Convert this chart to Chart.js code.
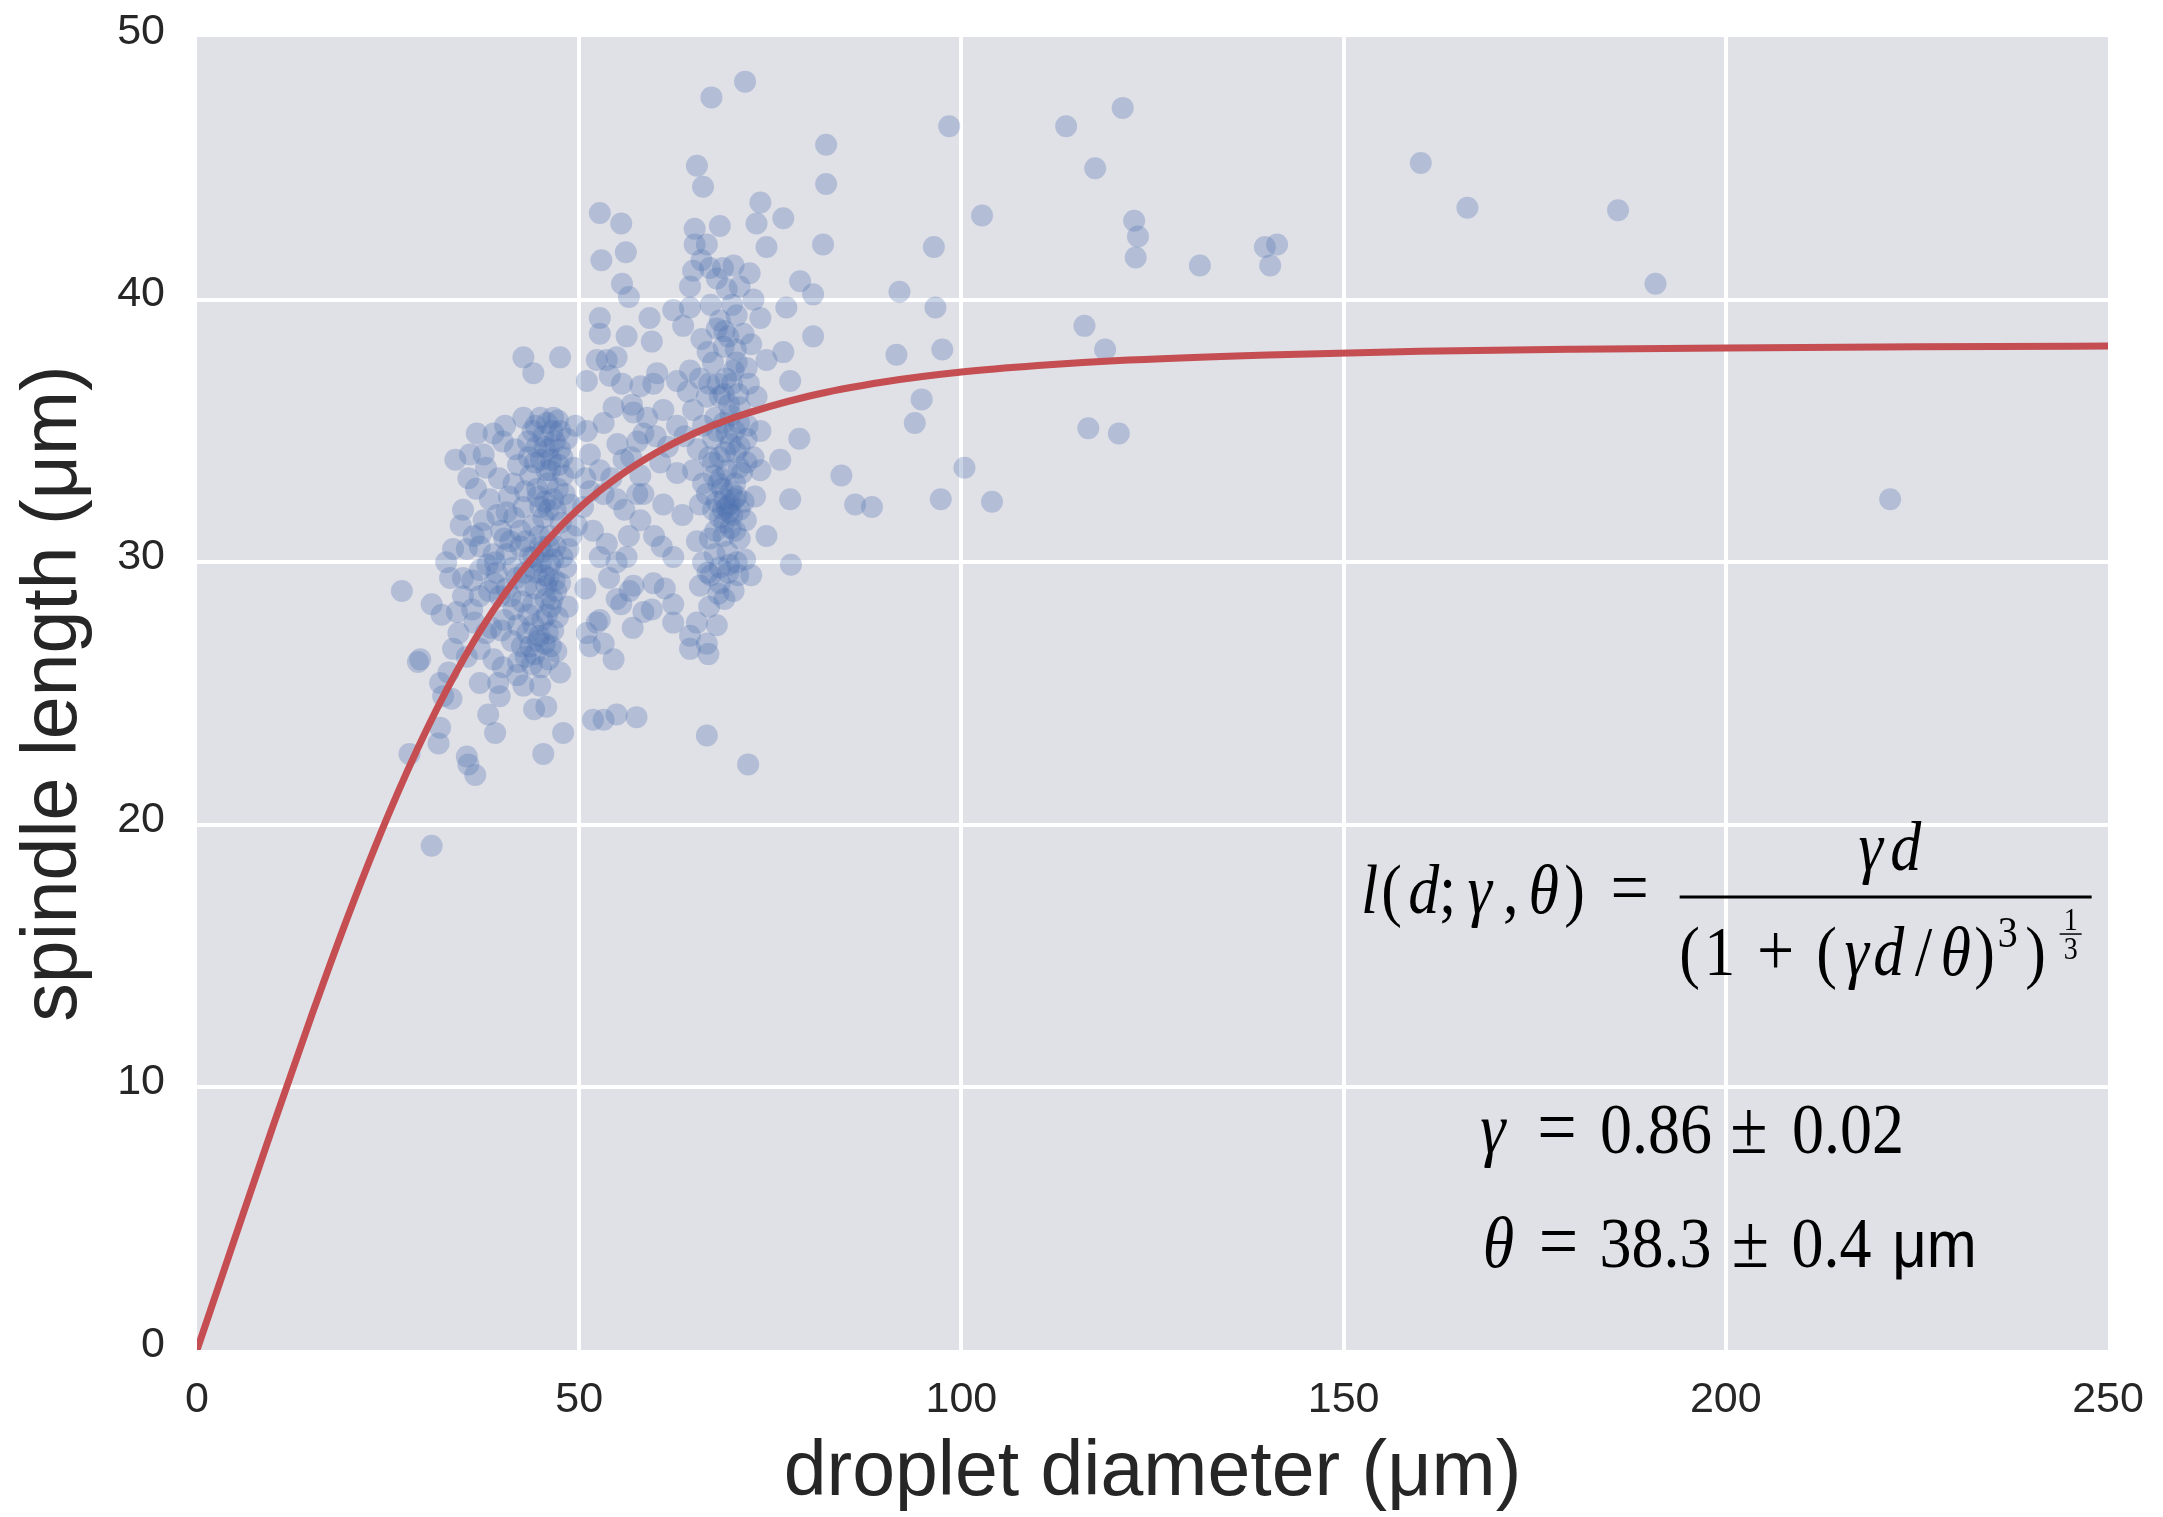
<!DOCTYPE html>
<html lang="en">
<head>
<meta charset="UTF-8">
<title>Spindle length vs droplet diameter</title>
<script src="https://cdn.jsdelivr.net/npm/chart.js@4.4.1/dist/chart.umd.min.js"></script>
<style>
  html, body { margin: 0; padding: 0; background: #fff; }
  #wrap { width: 2163px; height: 1517px; }
</style>
</head>
<body>
<div id="wrap"><canvas id="spindleChart" width="2163" height="1517"></canvas></div>
<script>
// axis ticks
const xTicks = [0, 50, 100, 150, 200, 250];
const yTicks = [0, 10, 20, 30, 40, 50];

// fitted curve
const fitDiameter = [0, 5, 10, 15, 20, 25, 30, 35, 40, 45, 50, 55, 60, 65, 70, 80, 90, 100, 110, 120, 140, 160, 180, 200, 225, 250];
const fitLength  = [0, 4.30, 8.57, 12.74, 16.71, 20.36, 23.60, 26.38, 28.69, 30.55, 32.06, 33.23, 34.16, 34.90, 35.48, 36.32, 36.87, 37.24, 37.49, 37.67, 37.89, 38.03, 38.11, 38.16, 38.20, 38.23];

// measured droplets: [diameter, spindle length]
const leftCluster = [
  [26.8,28.9],[28.9,26.2],[27.8,22.7],[30.7,19.2],[29.2,26.3],[30.7,28.4],[31.8,25.4],[32.2,24.9],[33.3,24.8],[31.8,23.7],
  [31.6,23.1],[32.9,25.8],[35.5,22.3],[36.4,21.9],[35.3,22.6],[38.1,24.2],[39.6,24.9],[37.0,25.4],[39.4,25.4],[42.7,25.3],
  [44.9,25.3],[45.7,24.5],[47.9,23.5],[45.3,22.7],[33.5,26.7],[35.3,26.4],[37.0,26.7],[38.8,26.3],[40.0,26.0],
  [42.5,26.8],[43.6,26.8],[44.2,26.5],[44.8,27.2],[45.5,26.9],[46.6,27.4],[46.0,26.3],[43.2,27.3],[44.0,27.6],[45.2,27.8],
  [47.5,25.8],[42.0,26.2],[41.2,27.0],[47.0,26.6],[45.0,26.0],[43.8,26.1],
  [34.8,28.7],[37.0,28.7],[39.6,28.7],[34.0,28.1],[41.4,28.2],[33.1,29.4],[34.8,29.4],[37.0,29.7],[39.2,29.6],[41.4,29.8],
  [43.1,29.1],[45.7,29.1],[47.5,29.2],[44.4,29.6],[36.0,28.2],[38.2,28.9],[42.5,28.5],[46.5,28.6],[48.5,28.3],[40.5,29.0],
  [44.0,28.4],[45.8,28.0],[32.0,28.0],[45.5,29.5],[46.2,29.9],[46.8,29.3],[45.0,30.0],
  [33.5,30.5],[35.3,30.5],[37.0,30.6],[38.8,30.3],[40.5,30.3],[42.3,30.6],[44.9,30.6],[46.2,31.0],[46.6,30.1],[42.3,31.2],
  [44.0,31.4],[37.5,31.6],[49.7,31.4],[36.2,31.0],[39.8,31.2],[41.0,30.8],[43.5,30.2],[47.6,31.5],[48.6,30.5],[34.5,31.4],
  [32.6,30.0],
  [34.8,32.0],[38.3,32.4],[40.5,31.9],[42.7,32.1],[44.9,32.1],[46.6,32.4],[41.4,33.0],[43.6,33.3],[45.7,33.5],[47.9,33.3],
  [50.5,32.1],[46.0,32.0],[47.2,32.8],[36.5,32.8],[39.5,33.2],[44.5,32.8],[48.8,32.2],[37.8,33.6],[35.5,33.2],
  [36.6,34.9],[38.8,34.9],[35.7,34.1],[37.5,34.1],[41.6,34.3],[42.7,35.5],[44.9,35.5],[46.6,35.5],[47.5,35.0],[45.3,34.8],
  [48.4,34.7],[44.4,34.4],[46.0,34.3],[47.5,34.3],[46.5,35.0],[40.0,34.6],[43.3,34.6],[49.5,35.2],
  [42.7,37.8],[47.5,37.8],[44.0,37.2],
  [38.5,27.5],[40.2,27.8],[39.0,30.0],[41.8,29.4],[43.0,30.8],[45.3,31.7],[46.9,32.0],[45.9,33.0],[44.2,33.8],[46.3,33.9],
  [47.8,34.0],[45.8,35.3],[43.9,35.0],[42.0,33.7],[40.8,32.5],[39.3,31.8],[37.2,31.1],[36.0,29.3],[38.0,29.9],[42.0,27.6],
  [46.3,28.3],[47.2,27.9],[48.3,29.8],[49.0,31.0],[49.3,33.6],[44.8,31.0],[45.6,28.6],[46.9,30.6],[43.4,28.0],
  [41.9,25.7],[44.1,24.4],[39.0,23.5],[34.2,27.3],[36.3,27.7],[33.8,33.9],[40.3,35.2],[43.4,34.0],
  [44.6,27.0],[45.9,27.3],[43.0,26.4],[46.3,26.8],[44.3,29.0],[46.0,29.4],[47.0,28.9],[45.2,30.4],[44.0,30.2],[46.0,30.6],
  [45.5,32.3],[44.6,32.5],[46.2,33.5],[45.0,33.9],[46.8,34.6],[45.5,34.4],[47.2,35.4],[44.3,35.2],[42.9,32.7],[41.5,31.7],
  [40.2,30.9],[38.9,29.2],[43.9,29.8],[42.8,29.6],[41.0,28.7],[39.8,27.4],[37.8,27.3],[47.8,30.2],[48.1,32.6],[47.3,33.7]
];
const middleCluster = [
  [52.7,39.3],[52.7,38.7],[56.2,38.6],[59.5,38.4],[52.3,37.7],[54.9,37.8],[51.0,36.9],[54.0,37.1],[58.0,36.7],[59.7,36.8],
  [62.8,36.9],[53.6,37.7],[53.2,35.3],[54.5,35.9],[57.1,35.7],[58.4,34.9],[61.0,35.8],[62.8,35.2],[51.4,34.1],[51.0,35.0],
  [52.7,33.5],[55.8,33.9],[58.0,33.3],[60.6,33.8],[62.8,33.4],[51.4,32.7],[54.9,32.4],[58.4,32.6],[61.0,32.2],[53.2,32.6],
  [58.0,31.6],[56.5,31.0],[51.8,31.2],[53.6,30.7],[54.9,30.0],[52.7,30.2],[62.3,30.2],[59.7,29.2],[56.6,28.9],[54.9,28.6],
  [52.3,27.7],[51.0,27.3],[54.5,26.3],[58.4,28.1],[62.3,28.4],[62.3,27.7],[52.7,27.8],[53.2,26.9],[51.4,26.8],[55.5,28.4],
  [59.5,28.2],[57.1,29.1],[53.2,24.0],[54.9,24.2],[57.5,24.1],[51.8,24.0],
  [52.7,43.3],[55.5,42.9],[52.9,41.5],[56.1,41.8],[55.6,40.6],[56.5,40.1],[59.2,39.3],[62.3,39.6],
  [56.8,34.0],[57.6,32.6],[59.8,31.0],[60.8,30.6],[55.6,36.8],[56.2,30.2],[57.0,27.5],[61.2,29.0],[60.2,37.2],[58.9,35.5],
  [55.0,34.5],[53.9,29.4],[50.8,29.0],[50.8,33.2],[61.6,34.4],
  [55.9,32.0],[54.2,33.2],[57.6,34.6],[60.0,34.8],[56.9,36.0]
];
const rightCluster = [
  [71.7,48.3],[67.3,47.7],[65.4,45.1],[66.2,44.3],[73.7,43.7],[65.1,42.7],[68.4,42.8],[73.2,42.9],[76.7,43.1],[82.3,45.9],
  [82.3,44.4],[81.9,42.1],[65.1,42.1],[66.7,42.1],[74.5,42.0],[64.9,41.1],[67.1,41.2],[70.2,41.3],[72.3,41.0],[78.9,40.7],
  [80.6,40.2],[64.5,40.5],[69.3,40.4],[71.0,40.5],[72.8,40.0],[77.1,39.7],[64.5,39.7],[68.4,39.2],[68.0,38.9],[70.6,39.4],
  [73.7,39.3],[63.6,39.0],[80.6,38.6],[76.7,38.0],[77.6,36.9],
  [64.5,37.3],[67.5,37.6],[70.2,37.3],[71.9,37.4],[74.5,37.7],[68.9,38.2],[66.0,38.5],[72.5,38.3],
  [64.9,35.8],[66.7,36.3],[68.9,36.4],[71.0,35.9],[73.2,36.3],[68.4,36.3],[70.0,36.8],[67.8,35.5],[69.8,35.6],[72.2,36.8],
  [65.8,37.0],[73.7,35.0],[71.9,34.7],[69.3,34.9],[67.5,34.7],[65.5,34.3],[70.5,34.2],[68.4,34.0],[72.8,34.0],
  [64.9,33.5],[67.5,33.8],[69.3,33.5],[71.9,33.8],[73.7,33.5],[76.3,33.9],[66.2,33.0],[70.4,33.0],[68.5,33.2],
  [65.8,32.2],[67.5,32.0],[69.3,32.1],[71.0,32.0],[70.6,32.5],[68.4,31.7],[69.0,32.4],[70.0,31.8],[68.0,32.3],[71.8,31.6],
  [69.8,31.3],[65.4,30.8],[67.1,30.9],[68.9,31.0],[71.0,30.9],[74.5,31.0],[66.2,30.0],[68.4,29.8],[70.6,30.0],[65.8,29.1],
  [68.4,29.2],[70.2,28.9],[69.5,29.6],[67.2,29.5],
  [64.5,27.2],[64.5,26.7],[66.7,26.9],[66.9,26.5],[65.4,27.7],[68.0,27.6],[66.7,23.4],[72.1,22.3],
  [77.6,32.4],[78.8,34.7],[84.3,33.3],[77.7,29.9],
  [66.0,41.5],[68.0,40.8],[70.0,39.8],[66.8,38.0],[69.5,38.6],[71.5,38.7],[67.0,36.8],[69.2,37.0],[70.8,36.4],[66.2,35.2],
  [68.9,35.3],[70.9,35.3],[67.0,34.0],[69.8,34.5],[71.3,33.4],[66.7,32.6],[69.9,32.7],[71.5,32.3],[68.7,32.8],[69.6,31.9],
  [67.8,31.2],[70.4,31.2],[67.7,30.3],[69.4,30.4],[71.7,30.1],[66.8,29.6],[69.0,28.6],[67.0,28.3],[70.5,38.1],[72.0,35.2],
  [73.0,32.5],[72.5,29.5],[63.8,34.8],[63.5,31.8],[64.2,36.5],
  [68.8,32.0],[69.7,32.2],[70.3,32.4],[69.0,31.5],[68.2,33.0],[70.9,33.6],[69.1,34.2],[68.0,35.0],[70.3,35.0],[69.6,36.0],
  [68.1,36.8],[70.6,37.6],[69.0,38.8],[67.2,39.8],[68.8,41.2],[69.6,29.9],[70.8,29.5],[68.2,28.8],[67.6,33.3],[71.0,34.4]
];
const sparsePoints = [
  [98.4,46.6],[113.7,46.6],[121.1,47.3],[117.5,45.0],[122.6,43.0],[123.1,42.4],[122.8,41.6],[131.2,41.3],[139.7,42.0],[141.3,42.1],
  [140.4,41.3],[160.1,45.2],[166.2,43.5],[185.9,43.4],[190.8,40.6],[221.5,32.4],[116.1,39.0],[118.8,38.1],[116.6,35.1],[120.6,34.9],
  [102.7,43.2],[96.4,42.0],[91.9,40.3],[96.6,39.7],[97.5,38.1],[91.5,37.9],[94.8,36.2],[93.9,35.3],[100.4,33.6],[104.0,32.3],
  [97.3,32.4],[86.1,32.2],[88.3,32.1]
];

// where the fit annotation sits (data coords: left / baseline of each line)
const formulaAt = [152.1, 16.64];
const gammaAt = [167.7, 7.50];
const thetaAt = [168.3, 3.16];

const SANS = "'Liberation Sans', Arial, Helvetica, sans-serif";
const SERIF = "'Liberation Serif', 'DejaVu Serif', serif";
const TEXT = '#262626';
const NONE = 'rgba(0,0,0,0)';

const allPoints = [...leftCluster, ...middleCluster, ...rightCluster, ...sparsePoints]
  .map(p => ({ x: p[0], y: p[1] }));
const fitPoints = fitDiameter.map((d, i) => ({ x: d, y: fitLength[i] }));

const plotBackground = {
  id: 'plotBackground',
  beforeDraw(chart) {
    const { ctx, chartArea: a } = chart;
    ctx.save();
    ctx.fillStyle = '#e0e0e7';
    ctx.fillRect(a.left, a.top, a.right - a.left, a.bottom - a.top);
    ctx.restore();
  }
};

// glyph centred at x, on baseline y; math text is a bit taller than Liberation Serif
function put(ctx, text, x, y, size, style) {
  const fam = style === 's' ? SANS : SERIF;
  ctx.save();
  ctx.font = (style === 'i' ? 'italic ' : '') + size + 'px ' + fam;
  ctx.textAlign = 'center';
  ctx.textBaseline = 'alphabetic';
  ctx.translate(x, y);
  ctx.scale(1, 1.12);
  ctx.fillText(text, 0, 0);
  ctx.restore();
}

function bar(ctx, x0, x1, y, w) {
  ctx.lineWidth = w;
  ctx.beginPath();
  ctx.moveTo(x0, y);
  ctx.lineTo(x1, y);
  ctx.stroke();
}

const fitLabel = {
  id: 'fitLabel',
  afterDatasetsDraw(chart) {
    const { ctx, scales: { x, y } } = chart;
    ctx.save();
    ctx.fillStyle = '#000';
    ctx.strokeStyle = '#000';

    // l(d; γ, θ) = γd / (1 + (γd/θ)^3)^(1/3)
    let ox = x.getPixelForValue(formulaAt[0]);
    let oy = y.getPixelForValue(formulaAt[1]);
    const m = 62;
    put(ctx, 'l', ox + 10, oy, m, 'i');
    put(ctx, '(', ox + 32, oy, m, 'r');
    put(ctx, 'd', ox + 64, oy, m, 'i');
    put(ctx, ';', ox + 88, oy, m, 'r');
    put(ctx, 'γ', ox + 120, oy, m, 'i');
    put(ctx, ',', ox + 151, oy, m, 'r');
    put(ctx, 'θ', ox + 184, oy, m, 'i');
    put(ctx, ')', ox + 215, oy, m, 'r');
    put(ctx, '=', ox + 270, oy, m + 6, 'r');

    bar(ctx, ox + 320, ox + 732, oy - 16, 3);

    put(ctx, 'γ', ox + 511, oy - 43, m, 'i');
    put(ctx, 'd', ox + 546, oy - 43, m, 'i');

    const dy = oy + 62;
    put(ctx, '(', ox + 330, dy, m, 'r');
    put(ctx, '1', ox + 360, dy, m, 'r');
    put(ctx, '+', ox + 416, dy, m + 4, 'r');
    put(ctx, '(', ox + 467, dy, m, 'r');
    put(ctx, 'γ', ox + 497, dy, m, 'i');
    put(ctx, 'd', ox + 529, dy, m, 'i');
    put(ctx, '/', ox + 564, dy, m, 'r');
    put(ctx, 'θ', ox + 596, dy, m, 'i');
    put(ctx, ')', ox + 625, dy, m, 'r');
    put(ctx, '3', ox + 648, oy + 34, 40, 'r');
    put(ctx, ')', ox + 676, dy, m, 'r');

    put(ctx, '1', ox + 711, oy + 17, 28, 'r');
    bar(ctx, ox + 700, ox + 722, oy + 21, 1.5);
    put(ctx, '3', ox + 711, oy + 46, 28, 'r');

    // fitted parameters
    const v = 64;
    ox = x.getPixelForValue(gammaAt[0]);
    oy = y.getPixelForValue(gammaAt[1]);
    put(ctx, 'γ', ox + 14, oy, v, 'i');
    put(ctx, '=', ox + 78, oy, v + 6, 'r');
    put(ctx, '0.86', ox + 177, oy, v, 'r');
    put(ctx, '±', ox + 270, oy, v + 4, 'r');
    put(ctx, '0.02', ox + 369, oy, v, 'r');

    ox = x.getPixelForValue(thetaAt[0]);
    oy = y.getPixelForValue(thetaAt[1]);
    put(ctx, 'θ', ox + 15, oy, v, 'i');
    put(ctx, '=', ox + 75, oy, v + 6, 'r');
    put(ctx, '38.3', ox + 172, oy, v, 'r');
    put(ctx, '±', ox + 267, oy, v + 4, 'r');
    put(ctx, '0.4', ox + 348, oy, v, 'r');
    put(ctx, 'μm', ox + 451, oy, 60, 's');
    ctx.restore();
  }
};

function gridColor(edges) {
  return c => (c.tick && edges.includes(c.tick.value)) ? NONE : '#ffffff';
}

new Chart(document.getElementById('spindleChart'), {
  type: 'scatter',
  data: {
    datasets: [
      {
        type: 'line',
        label: 'fit',
        data: fitPoints,
        borderColor: '#c44e52',
        borderWidth: 7,
        pointRadius: 0,
        fill: false,
        cubicInterpolationMode: 'monotone',
        borderCapStyle: 'round',
        order: 0
      },
      {
        label: 'droplets',
        data: allPoints,
        backgroundColor: 'rgba(76,114,176,0.3)',
        borderWidth: 0,
        pointRadius: 11,
        order: 1
      }
    ]
  },
  options: {
    responsive: false,
    devicePixelRatio: 1,
    animation: false,
    layout: { padding: { top: 37, right: 55, left: 0, bottom: 0 } },
    plugins: { legend: { display: false }, tooltip: { enabled: false } },
    scales: {
      x: {
        type: 'linear',
        min: 0, max: 250,
        afterBuildTicks: s => { s.ticks = xTicks.map(v => ({ value: v })); },
        afterFit: s => { s.height = 167; },
        border: { display: false },
        grid: { color: gridColor([0, 250]), lineWidth: 4, drawTicks: true, tickLength: 24, tickColor: NONE },
        ticks: { color: TEXT, font: { family: SANS, size: 43 }, padding: 0, maxRotation: 0 },
        title: {
          display: true, text: 'droplet diameter (μm)', color: TEXT,
          font: { family: SANS, size: 77, lineHeight: 1 }, padding: { top: 0, bottom: 5 }
        }
      },
      y: {
        type: 'linear',
        min: 0, max: 50,
        afterBuildTicks: s => { s.ticks = yTicks.map(v => ({ value: v })); },
        afterFit: s => { s.width = 197; },
        border: { display: false },
        grid: { color: gridColor([0, 50]), lineWidth: 4, drawTicks: true, tickLength: 32, tickColor: NONE },
        ticks: { color: TEXT, font: { family: SANS, size: 43 }, padding: 0, labelOffset: -5 },
        title: {
          display: true, text: 'spindle length (μm)', color: TEXT,
          font: { family: SANS, size: 77, lineHeight: 1 }, padding: { top: 16, bottom: 0 }
        }
      }
    }
  },
  plugins: [plotBackground, fitLabel]
});
</script>
</body>
</html>
